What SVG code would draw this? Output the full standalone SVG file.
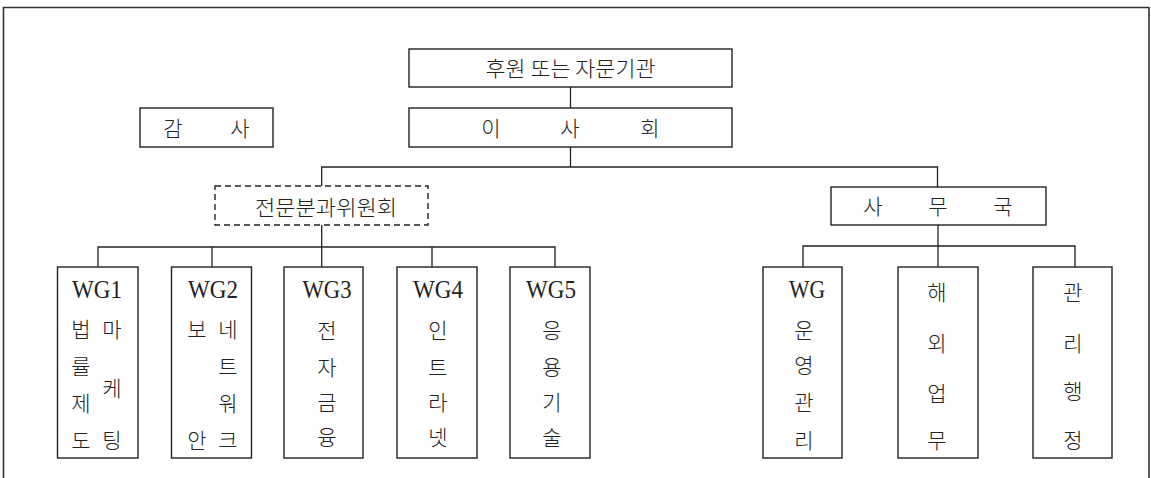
<svg xmlns="http://www.w3.org/2000/svg" width="1151" height="478" viewBox="0 0 1151 478">
<style>
.bx{fill:#fff;stroke:#222;stroke-width:1.4}
.dash{fill:#fff;stroke:#222;stroke-width:1.4;stroke-dasharray:6 4}
.ln{fill:none;stroke:#222;stroke-width:1.3}
.ko{font-family:"Noto Sans CJK KR","Noto Sans",sans-serif;font-size:21px;font-weight:300;fill:#222;text-anchor:middle}
.wg{font-family:"Liberation Serif",serif;font-size:26px;fill:#222;text-anchor:middle}
</style>
<rect x="0" y="0" width="1151" height="478" fill="#fff"/>
<path d="M3.5,480 V7.5 H1149 V480" fill="none" stroke="#333" stroke-width="1.6"/>
<g id="connectors" class="ln">
<path d="M570.5,87 V108"/>
<path d="M570.5,147 V167"/>
<path d="M321.7,186 V167 H937.5 V187"/>
<path d="M321.7,225 V267"/>
<path d="M98,267 V247 H555 V267"/>
<path d="M212,247 V267"/>
<path d="M432,247 V267"/>
<path d="M938,225 V267"/>
<path d="M803,267 V246 H1075 V267"/>
</g>
<g id="n-support">
<rect class="bx" x="409" y="49" width="323" height="38"/>
<text class="ko" x="570.5" y="75.5" textLength="170" lengthAdjust="spacingAndGlyphs">후원 또는 자문기관</text>
</g>
<g id="n-board">
<rect class="bx" x="409" y="108" width="323" height="39"/>
<text class="ko" x="491" y="135.5">이</text>
<text class="ko" x="570" y="135.5">사</text>
<text class="ko" x="650" y="135.5">회</text>
</g>
<g id="n-audit">
<rect class="bx" x="140" y="108" width="133" height="39"/>
<text class="ko" x="173" y="135.5">감</text>
<text class="ko" x="240" y="135.5">사</text>
</g>
<g id="n-committee">
<rect class="dash" x="215" y="186" width="213" height="39"/>
<text class="ko" x="326" y="214.5" textLength="142" lengthAdjust="spacingAndGlyphs">전문분과위원회</text>
</g>
<g id="n-secretariat">
<rect class="bx" x="831" y="187" width="215" height="38"/>
<text class="ko" x="873" y="213.5">사</text>
<text class="ko" x="938" y="213.5">무</text>
<text class="ko" x="1003" y="213.5">국</text>
</g>
<g id="n-wg1">
<rect class="bx" x="57.5" y="267" width="80.5" height="191"/>
<text class="wg" x="97" y="298" textLength="50" lengthAdjust="spacingAndGlyphs">WG1</text>
<text class="ko" x="81" y="336.5">법</text>
<text class="ko" x="81" y="373.5">률</text>
<text class="ko" x="81" y="410.5">제</text>
<text class="ko" x="81" y="447.5">도</text>
<text class="ko" x="112" y="336.5">마</text>
<text class="ko" x="112" y="395.5">케</text>
<text class="ko" x="112" y="447.5">팅</text>
</g>
<g id="n-wg2">
<rect class="bx" x="171.5" y="267" width="80" height="191"/>
<text class="wg" x="213" y="298" textLength="50" lengthAdjust="spacingAndGlyphs">WG2</text>
<text class="ko" x="197" y="336.5">보</text>
<text class="ko" x="197" y="447.5">안</text>
<text class="ko" x="228" y="336.5">네</text>
<text class="ko" x="228" y="373.5">트</text>
<text class="ko" x="228" y="410.5">워</text>
<text class="ko" x="228" y="447.5">크</text>
</g>
<g id="n-wg3">
<rect class="bx" x="284" y="267" width="79" height="191"/>
<text class="wg" x="327" y="298" textLength="49" lengthAdjust="spacingAndGlyphs">WG3</text>
<text class="ko" x="327" y="337.5">전</text>
<text class="ko" x="327" y="374.5">자</text>
<text class="ko" x="327" y="409.5">금</text>
<text class="ko" x="327" y="444.5">융</text>
</g>
<g id="n-wg4">
<rect class="bx" x="397" y="267" width="80" height="191"/>
<text class="wg" x="438" y="298" textLength="50" lengthAdjust="spacingAndGlyphs">WG4</text>
<text class="ko" x="438" y="337.5">인</text>
<text class="ko" x="438" y="374.5">트</text>
<text class="ko" x="438" y="409.5">라</text>
<text class="ko" x="438" y="444.5">넷</text>
</g>
<g id="n-wg5">
<rect class="bx" x="510" y="267" width="80" height="191"/>
<text class="wg" x="551" y="298" textLength="50" lengthAdjust="spacingAndGlyphs">WG5</text>
<text class="ko" x="552" y="337.5">응</text>
<text class="ko" x="552" y="374.5">용</text>
<text class="ko" x="552" y="409.5">기</text>
<text class="ko" x="552" y="444.5">술</text>
</g>
<g id="n-wgops">
<rect class="bx" x="763" y="267" width="79" height="191"/>
<text class="wg" x="807" y="298" textLength="36" lengthAdjust="spacingAndGlyphs">WG</text>
<text class="ko" x="804" y="337.5">운</text>
<text class="ko" x="804" y="372.5">영</text>
<text class="ko" x="804" y="409.5">관</text>
<text class="ko" x="804" y="447.5">리</text>
</g>
<g id="n-overseas">
<rect class="bx" x="898" y="267" width="80" height="191"/>
<text class="ko" x="937" y="299.5">해</text>
<text class="ko" x="937" y="350.5">외</text>
<text class="ko" x="937" y="400.5">업</text>
<text class="ko" x="937" y="447.5">무</text>
</g>
<g id="n-admin">
<rect class="bx" x="1033" y="267" width="79" height="191"/>
<text class="ko" x="1073" y="299.5">관</text>
<text class="ko" x="1073" y="350.5">리</text>
<text class="ko" x="1073" y="398.5">행</text>
<text class="ko" x="1073" y="447.5">정</text>
</g>
</svg>
